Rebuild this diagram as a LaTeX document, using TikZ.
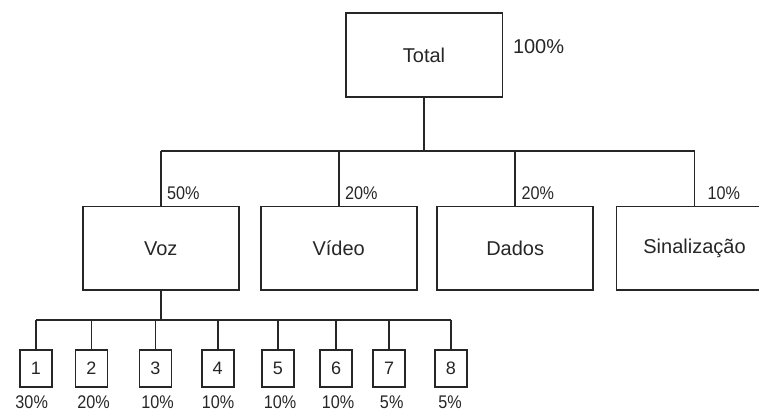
\documentclass[tikz,border=0pt]{standalone}
\usepackage{fontspec}
\usepackage{graphicx}
\setmainfont{Liberation Sans}
\newcommand\tallpc[1]{\scalebox{1}[1.13]{#1}}
\begin{document}
\begin{tikzpicture}[x=1pt,y=-1pt,
  line/.style={draw=black!85,line width=1.6pt},
  bigbox/.style={line,inner sep=0pt,outer sep=0pt,minimum width=156pt,minimum height=83.4pt,
    font=\fontsize{20}{22}\selectfont,text=black!85},
  leafbox/.style={line,inner sep=0pt,outer sep=0pt,minimum width=32pt,minimum height=37pt,
    font=\fontsize{18}{20}\selectfont,text=black!85},
  pct/.style={inner sep=0pt,outer sep=0pt,font=\fontsize{16.2}{18}\selectfont,text=black!85},
  bigpct/.style={inner sep=0pt,outer sep=0pt,font=\fontsize{20}{22}\selectfont,text=black!85}]
\useasboundingbox (0,0) rectangle (759,412);
\clip (0,0) rectangle (759,412);
% top
\node[bigbox,minimum width=156.6pt] (total) at (424,55) {Total};
\node[bigpct,anchor=base west] (ptotal) at (513,53) {100\%};
% level 2
\node[bigbox] (voz) at (160.7,248.3) {Voz};
\node[bigbox] (video) at (338.7,248.3) {Vídeo};
\node[bigbox] (dados) at (515.2,248.3) {Dados};
\node[bigbox] (sinal) at (694.5,248.3) {Sinalização};
\coordinate (bus) at (0,151);
\draw[line] (total.south) -- (total.south |- bus);
\draw[line] (voz.north |- bus) -- (sinal.north |- bus);
\foreach \n in {voz,video,dados,sinal}{
  \draw[line] (\n.north) -- (\n.north |- bus);
}
\node[pct,anchor=base west] (p1) at ([xshift=6.5pt]voz.north |- 0,199) {\tallpc{50\%}};
\node[pct,anchor=base west] (p2) at ([xshift=6.5pt]video.north |- 0,199) {\tallpc{20\%}};
\node[pct,anchor=base west] (p3) at ([xshift=6.5pt]dados.north |- 0,199) {\tallpc{20\%}};
\node[pct,anchor=base west] (p4) at ([xshift=13pt]sinal.north |- 0,199) {\tallpc{10\%}};
% leaves
\coordinate (lbus) at (0,320);
\foreach \i/\x/\p/\lx in {1/36/30/31.7,2/91.5/20/93.5,3/155.3/10/157.5,4/217.7/10/218,5/277.8/10/280,6/336/10/338,7/389/5/391.7,8/450.8/5/450}{
  \node[leafbox] (l\i) at (\x,368.5) {\i};
  \draw[line] (l\i.north) -- (l\i.north |- lbus);
  \node[pct,anchor=base] (lp\i) at (\lx,408.5) {\tallpc{\p\%}};
}
\draw[line] (l1.north |- lbus) -- (l8.north |- lbus);
\draw[line] (voz.south) -- (voz.south |- lbus);
\end{tikzpicture}
\end{document}
